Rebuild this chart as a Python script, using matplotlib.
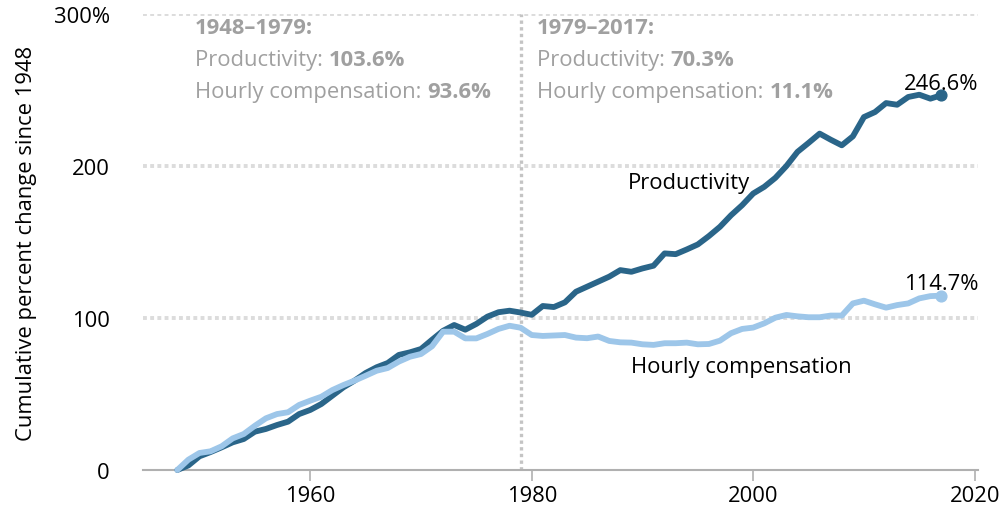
import numpy as np
import matplotlib.pyplot as plt

plt.rcParams['font.family'] = ['Open Sans', 'DejaVu Sans']

# Datos
years = np.arange(1948, 2018)
productivity = [
    0, 3.0, 9.0, 11.8, 14.9, 18.2, 20.4, 25.2, 27.0, 29.6,
    31.8, 36.8, 39.5, 43.4, 48.9, 54.4, 58.8, 63.8, 67.6, 70.4,
    75.7, 77.4, 79.6, 85.7, 91.6, 95.4, 92.3, 96.1, 100.9, 103.8,
    104.8, 103.6, 102.1, 107.9, 107.2, 110.3, 117.3, 120.6, 123.9, 127.2,
    131.5, 130.4, 132.6, 134.4, 142.5, 142.0, 145.1, 148.4, 153.9, 160.0,
    167.6, 174.2, 181.9, 186.3, 192.2, 200.0, 209.3, 215.2, 221.3, 217.3,
    213.6, 219.5, 232.2, 235.5, 241.4, 240.3, 245.4, 246.9, 244.3, 246.6,
]
compensation = [
    0, 6.8, 11.2, 12.3, 15.6, 20.8, 23.7, 29.1, 34.0, 36.8,
    38.0, 42.8, 45.6, 48.2, 52.6, 55.9, 58.8, 62.0, 65.3, 67.1,
    71.3, 74.5, 76.3, 81.4, 91.0, 91.0, 86.6, 86.6, 89.5, 92.8,
    94.9, 93.6, 88.8, 88.2, 88.5, 88.8, 87.1, 86.7, 87.8, 84.9,
    84.0, 83.8, 82.7, 82.3, 83.4, 83.4, 83.8, 82.7, 82.9, 85.1,
    90.0, 92.8, 93.7, 96.5, 100.2, 102.0, 101.1, 100.5, 100.5, 101.6,
    101.6, 109.6, 111.4, 109.0, 106.8, 108.5, 109.6, 112.9, 114.4, 114.7,
]
x_ticks = [1960, 1980, 2000, 2020]
y_ticks = [0, 100, 200, 300]
y_tick_labels = ['0', '100', '200', '300%']
split_year = 1979
periods = [
    ('1948\u20131979:', '103.6%', '93.6%', 1949.6),
    ('1979\u20132017:', '70.3%', '11.1%', 1980.5),
]

dark = '#2a6589'
light = '#9dc6e9'
grid_gray = '#dcdcdc'
note_gray = '#a0a0a0'
fs = 15.8

fig = plt.figure(figsize=(10.05, 5.10), dpi=100)
ax = fig.add_axes([143 / 1005, 39 / 510, 835 / 1005, 456 / 510])

# Rejilla punteada
for y in y_ticks[1:]:
    ax.axhline(y, color=grid_gray, lw=2.8, ls=(0, (1, 0.85)), dash_capstyle='butt', zorder=1)
ax.axvline(split_year, color='#c4c4c4', lw=2.4, ls=(0, (1, 1.0)), dash_capstyle='butt', zorder=1)

# Series
ax.plot(years, productivity, color=dark, lw=4.2, solid_capstyle='round', zorder=3, clip_on=False)
ax.plot(years, compensation, color=light, lw=4.2, solid_capstyle='round', zorder=4, clip_on=False)
ax.scatter([years[-1]], [productivity[-1]], s=60, color=dark, zorder=5, clip_on=False)
ax.scatter([years[-1]], [compensation[-1]], s=60, color=light, zorder=5, clip_on=False)

ax.set_xlim(1944.9, 2020.3)
ax.set_ylim(0, 300)

for s in ['top', 'right', 'left']:
    ax.spines[s].set_visible(False)
ax.spines['bottom'].set_color('#b0b0b0')
ax.spines['bottom'].set_linewidth(1.5)

ax.set_xticks(x_ticks)
ax.set_yticks(y_ticks)
ax.set_yticklabels(y_tick_labels)
ax.tick_params(axis='x', length=8, width=1.2, color='#b0b0b0', labelsize=fs, pad=3)
ax.tick_params(axis='y', length=0, labelsize=fs, pad=24)
ax.set_ylabel('Cumulative percent change since 1948', fontsize=fs, labelpad=12)

# Etiquetas de series
ax.text(1994.2, 189, 'Productivity', fontsize=fs, ha='center', va='center')
ax.text(1998.9, 68, 'Hourly compensation', fontsize=fs, ha='center', va='center')
ax.annotate(f'{productivity[-1]:.1f}%', (years[-1], productivity[-1]), xytext=(0, 1),
            textcoords='offset points', ha='center', va='bottom', fontsize=fs)
ax.annotate(f'{compensation[-1]:.1f}%', (years[-1], compensation[-1]), xytext=(0, 1),
            textcoords='offset points', ha='center', va='bottom', fontsize=fs)

# Notas de periodos
for title, prod, comp, x0 in periods:
    ax.text(x0, 291, title, fontsize=fs, fontweight='bold', color=note_gray, va='center')
    t1 = ax.text(x0, 270, 'Productivity: ', fontsize=fs, color=note_gray, va='center')
    ax.annotate(prod, xy=(1, 0), xycoords=t1, va='bottom', fontsize=fs,
                fontweight='bold', color=note_gray)
    t2 = ax.text(x0, 249, 'Hourly compensation: ', fontsize=fs, color=note_gray, va='center')
    ax.annotate(comp, xy=(1, 0), xycoords=t2, va='bottom', fontsize=fs,
                fontweight='bold', color=note_gray)

fig.savefig('out.png', dpi=100)
